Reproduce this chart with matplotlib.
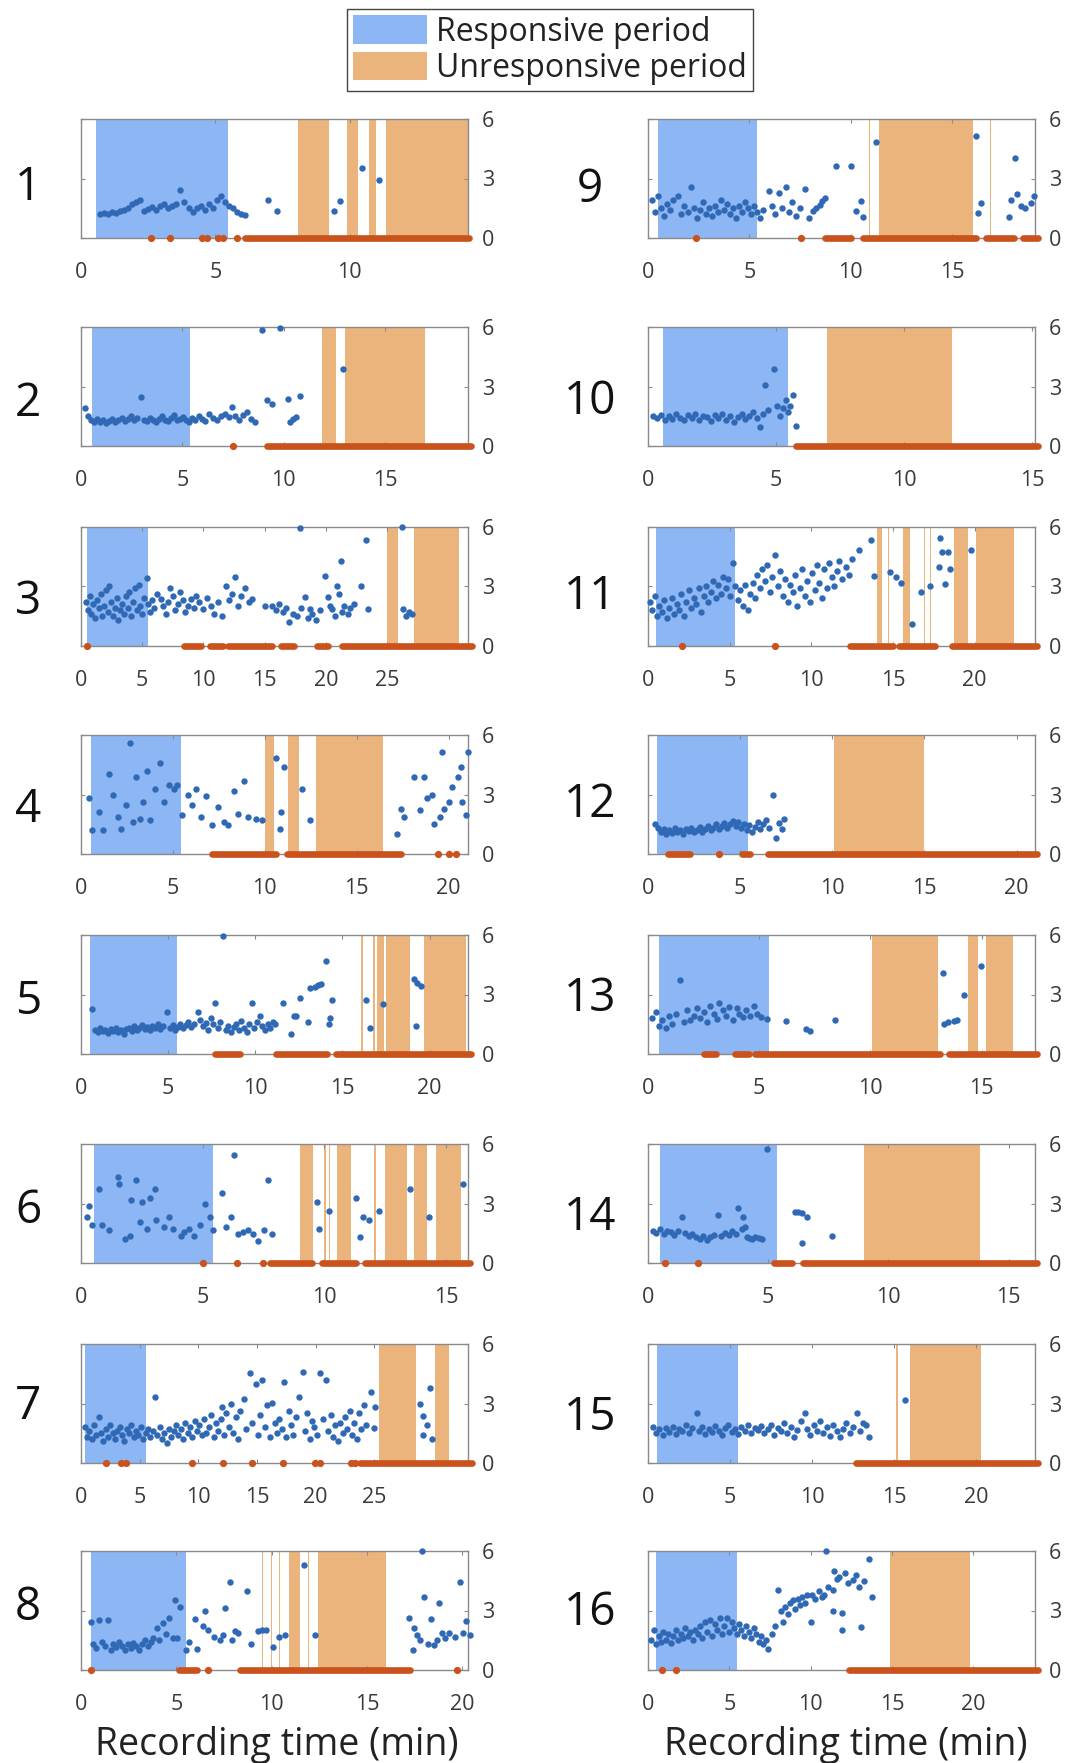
import matplotlib
matplotlib.use('Agg')
import matplotlib.pyplot as plt
from matplotlib.patches import Patch

plt.rcParams['font.family'] = ['Open Sans', 'DejaVu Sans']

# ---------------- data ----------------
legend_labels = ["Responsive period", "Unresponsive period"]
xlabel_text = "Recording time (min)"
yticks = [0, 3, 6]

# panel 1
p1_xmax = 14.4
p1_xticks = [0, 5, 10]
p1_resp = (0.54, 5.48)
p1_unresp = [(8.07, 9.21), (9.9, 10.29), (10.73, 10.98), (11.36, 14.4)]
p1_pts = [(0.7, 1.2), (0.85, 1.25), (1.0, 1.2), (1.15, 1.3), (1.3, 1.25), (1.45, 1.35), (1.6, 1.4), (1.75, 1.5),
          (1.9, 1.7), (2.05, 1.8), (2.2, 1.9), (2.35, 1.35), (2.5, 1.45), (2.65, 1.55), (2.8, 1.4), (2.95, 1.6),
          (3.1, 1.7), (3.25, 1.5), (3.4, 1.6), (3.55, 1.7), (3.7, 2.4), (3.85, 1.8), (4.0, 1.5), (4.15, 1.3),
          (4.3, 1.5), (4.45, 1.6), (4.6, 1.4), (4.75, 1.7), (4.9, 1.5), (5.05, 1.9), (5.2, 2.1), (5.35, 1.8),
          (5.5, 1.6), (5.65, 1.5), (5.8, 1.3), (5.95, 1.2), (6.1, 1.15), (6.95, 1.9), (7.3, 1.35), (9.4, 1.35),
          (9.65, 1.85), (10.45, 3.55), (11.1, 2.9)]
p1_zero_dots = [2.6, 3.3, 4.5, 4.7, 5.1, 5.3, 5.8]
p1_zero_runs = [(6.1, 14.45)]

# panel 2
p2_xmax = 19.1
p2_xticks = [0, 5, 10, 15]
p2_resp = (0.52, 5.37)
p2_unresp = [(11.9, 12.6), (13.05, 17.0)]
p2_pts = [(0.2, 1.9), (0.35, 1.5), (0.5, 1.3), (0.65, 1.2), (0.8, 1.35), (0.95, 1.2), (1.1, 1.3), (1.25, 1.15),
          (1.4, 1.25), (1.55, 1.35), (1.7, 1.2), (1.85, 1.3), (2.0, 1.4), (2.15, 1.25), (2.3, 1.35), (2.45, 1.5),
          (2.6, 1.3), (2.75, 1.4), (2.95, 2.45), (3.1, 1.3), (3.25, 1.25), (3.4, 1.4), (3.55, 1.3), (3.7, 1.2),
          (3.85, 1.35), (4.0, 1.5), (4.15, 1.3), (4.3, 1.25), (4.45, 1.4), (4.6, 1.55), (4.75, 1.3), (4.9, 1.35),
          (5.05, 1.45), (5.2, 1.3), (5.35, 1.2), (5.5, 1.4), (5.65, 1.3), (5.8, 1.5), (5.95, 1.35), (6.1, 1.25),
          (6.3, 1.6), (6.5, 1.4), (6.7, 1.3), (6.9, 1.5), (7.1, 1.6), (7.3, 1.45), (7.45, 1.95), (7.6, 1.5),
          (7.8, 1.3), (8.0, 1.55), (8.2, 1.7), (8.4, 1.35), (8.6, 1.2), (8.95, 5.85), (9.2, 2.3), (9.45, 2.1),
          (9.8, 5.95), (10.2, 2.35), (10.3, 1.2), (10.45, 1.35), (10.6, 1.45), (10.8, 2.5), (12.95, 3.9)]
p2_zero_dots = [7.52]
p2_zero_runs = [(9.2, 19.25)]

# panel 3
p3_xmax = 31.6
p3_xticks = [0, 5, 10, 15, 20, 25]
p3_resp = (0.5, 5.5)
p3_unresp = [(25.0, 25.9), (27.2, 30.9)]
p3_pts = [(0.4, 2.2), (0.55, 1.8), (0.7, 2.5), (0.85, 1.6), (1.0, 2.1), (1.15, 1.4), (1.3, 2.3), (1.45, 1.9),
          (1.6, 2.6), (1.75, 1.5), (1.9, 2.0), (2.05, 2.8), (2.2, 1.7), (2.3, 3.05), (2.45, 2.2), (2.6, 1.5),
          (2.75, 1.9), (2.9, 2.4), (3.05, 1.3), (3.2, 1.8), (3.35, 2.1), (3.5, 1.6), (3.65, 2.5), (3.8, 1.9),
          (3.95, 2.7), (4.1, 1.5), (4.25, 2.2), (4.4, 2.9), (4.55, 1.8), (4.7, 3.1), (4.85, 2.0), (5.0, 1.6),
          (5.15, 2.4), (5.35, 3.45), (5.5, 2.1), (5.65, 1.7), (5.8, 2.3), (6.0, 1.9), (6.2, 2.6), (6.5, 2.35),
          (6.7, 2.0), (6.9, 1.6), (7.1, 2.2), (7.3, 2.9), (7.5, 2.5), (7.7, 1.8), (7.9, 2.1), (8.1, 2.7),
          (8.3, 2.3), (8.5, 1.7), (8.7, 2.0), (8.97, 2.35), (9.2, 1.9), (9.4, 2.5), (9.6, 2.2), (10.0, 1.85),
          (10.3, 2.4), (10.6, 2.0), (10.9, 1.6), (11.2, 2.2), (11.5, 1.5), (11.8, 3.05), (12.1, 2.3), (12.35, 2.6),
          (12.6, 3.5), (12.85, 2.0), (13.1, 2.5), (13.4, 2.9), (13.7, 2.2), (14.0, 2.35), (15.0, 2.0), (15.6, 2.0),
          (15.9, 1.8), (16.2, 2.1), (16.5, 1.7), (16.75, 1.9), (17.0, 1.2), (17.3, 1.6), (17.6, 1.5), (17.9, 5.95),
          (18.0, 1.9), (18.3, 2.45), (18.5, 1.4), (18.7, 1.85), (18.9, 1.6), (19.2, 1.3), (19.5, 1.8), (19.9, 3.55),
          (20.2, 2.45), (20.35, 2.0), (20.5, 1.85), (20.7, 1.5), (20.9, 3.05), (21.05, 2.6), (21.2, 4.3), (21.35, 1.7),
          (21.5, 2.0), (21.8, 1.6), (22.0, 1.9), (22.3, 2.1), (22.85, 3.05), (23.3, 5.35), (23.4, 1.85), (26.2, 6.0),
          (26.3, 1.85), (26.5, 1.5), (26.75, 1.7), (27.0, 1.6)]
p3_zero_dots = [0.5]
p3_zero_runs = [(8.4, 9.8), (10.5, 11.6), (12.0, 15.6), (16.3, 17.4), (19.25, 20.2), (21.3, 31.9)]

# panel 4
p4_xmax = 21.05
p4_xticks = [0, 5, 10, 15, 20]
p4_resp = (0.52, 5.42)
p4_unresp = [(10.0, 10.5), (11.25, 11.84), (12.8, 16.4)]
p4_pts = [(0.46, 2.8), (0.6, 1.2), (1.0, 2.1), (1.2, 1.2), (1.54, 4.05), (1.72, 2.95), (2.0, 1.86), (2.2, 1.27),
          (2.46, 2.45), (2.65, 5.6), (2.83, 1.6), (3.0, 3.9), (3.2, 1.77), (3.38, 2.6), (3.57, 4.2), (3.75, 1.7),
          (4.03, 3.3), (4.3, 4.6), (4.5, 2.6), (4.77, 3.5), (5.05, 3.3), (5.2, 3.5), (5.5, 1.95), (5.8, 2.95),
          (6.05, 2.45), (6.25, 3.3), (6.53, 1.86), (6.8, 2.9), (7.1, 1.45), (7.45, 2.35), (7.8, 1.6), (8.0, 1.45),
          (8.3, 3.2), (8.55, 2.0), (8.85, 3.7), (9.1, 1.86), (9.5, 1.77), (9.85, 1.7), (10.6, 4.85), (11.05, 4.4),
          (10.9, 2.1), (10.8, 1.27), (12.0, 3.3), (12.45, 1.7), (17.2, 1.0), (17.4, 2.28), (17.55, 1.86), (18.1, 3.9),
          (18.65, 3.9), (18.45, 2.2), (18.8, 2.8), (19.1, 2.95), (19.2, 1.5), (19.5, 1.86), (19.65, 5.15), (19.75, 2.28),
          (20.0, 2.6), (20.2, 3.38), (20.5, 3.9), (20.65, 4.4), (20.75, 2.6), (20.95, 1.95), (21.05, 5.15)]
p4_zero_dots = [19.4, 20.0, 20.4]
p4_zero_runs = [(7.1, 10.6), (11.2, 17.4)]

# panel 5
p5_xmax = 22.2
p5_xticks = [0, 5, 10, 15, 20]
p5_resp = (0.49, 5.52)
p5_unresp = [(16.05, 16.15), (16.75, 16.85), (17.0, 17.4), (17.5, 18.9), (19.7, 22.1)]
p5_pts = [(0.64, 2.25), (0.8, 1.2), (0.95, 1.1), (1.1, 1.3), (1.25, 1.15), (1.4, 1.2), (1.55, 1.05), (1.7, 1.25),
          (1.85, 1.15), (2.0, 1.3), (2.15, 1.1), (2.3, 1.2), (2.45, 1.0), (2.6, 1.25), (2.75, 1.3), (2.9, 1.15),
          (3.05, 1.4), (3.2, 1.2), (3.35, 1.3), (3.5, 1.45), (3.65, 1.25), (3.8, 1.35), (3.95, 1.2), (4.1, 1.4),
          (4.25, 1.3), (4.4, 1.5), (4.55, 1.25), (4.7, 1.4), (4.93, 2.1), (5.1, 1.3), (5.25, 1.45), (5.4, 1.2),
          (5.55, 1.35), (5.7, 1.5), (5.85, 1.3), (6.0, 1.45), (6.15, 1.6), (6.3, 1.35), (6.5, 1.5), (6.7, 2.1),
          (6.85, 1.7), (7.0, 1.4), (7.15, 1.55), (7.3, 1.2), (7.45, 1.8), (7.6, 1.5), (7.7, 2.55), (7.85, 1.3),
          (8.0, 1.6), (8.16, 5.95), (8.3, 1.2), (8.45, 1.4), (8.6, 1.1), (8.75, 1.35), (8.9, 1.5), (9.05, 1.2),
          (9.2, 1.65), (9.35, 1.3), (9.5, 1.1), (9.65, 1.5), (9.8, 2.55), (9.95, 1.3), (10.1, 1.6), (10.25, 1.9),
          (10.4, 1.4), (10.55, 1.2), (10.7, 1.5), (10.85, 1.3), (11.0, 1.6), (11.15, 1.5), (11.6, 2.55), (12.05, 1.0),
          (12.2, 1.9), (12.35, 1.9), (12.55, 2.8), (13.0, 1.6), (13.15, 3.35), (13.4, 3.4), (13.6, 3.5), (13.75, 3.55),
          (14.05, 4.7), (14.2, 1.5), (14.3, 1.8), (14.4, 2.7), (16.35, 2.7), (16.6, 1.3), (17.3, 2.5), (19.1, 3.8),
          (19.2, 1.4), (19.3, 3.6), (19.5, 3.45)]
p5_zero_dots = []
p5_zero_runs = [(7.7, 9.1), (11.2, 14.1), (14.6, 22.4)]

# panel 6
p6_xmax = 15.9
p6_xticks = [0, 5, 10, 15]
p6_resp = (0.53, 5.42)
p6_unresp = [(8.99, 9.52), (10.0, 10.05), (10.2, 10.25), (10.5, 11.1), (12.05, 12.1), (12.5, 13.4),
             (13.7, 14.2), (14.6, 15.6)]
p6_pts = [(0.25, 2.33), (0.32, 2.85), (0.46, 1.9), (0.74, 3.75), (0.88, 1.9), (1.16, 1.64), (1.5, 4.36), (1.58, 4.0),
          (1.8, 1.2), (2.0, 1.38), (2.07, 3.2), (2.28, 4.2), (2.42, 2.07), (2.5, 3.1), (2.7, 1.72), (2.85, 3.3),
          (3.05, 3.75), (3.1, 2.15), (3.4, 1.8), (3.6, 2.33), (3.8, 1.72), (4.1, 1.38), (4.25, 1.55), (4.45, 1.72),
          (4.65, 1.38), (4.87, 1.9), (5.08, 2.95), (5.3, 2.33), (5.42, 1.64), (5.8, 3.55), (5.95, 1.8), (6.15, 2.33),
          (6.3, 5.45), (6.43, 1.47), (6.65, 1.55), (6.85, 1.64), (7.07, 1.47), (7.27, 1.12), (7.5, 1.64), (7.7, 4.2),
          (7.85, 1.47), (9.7, 3.1), (9.77, 1.72), (10.2, 2.6), (11.3, 3.3), (11.45, 1.3), (11.6, 2.33), (11.85, 2.15),
          (12.25, 2.6), (13.5, 3.75), (14.3, 2.33), (15.7, 4.0)]
p6_zero_dots = [5.0, 6.4, 7.47]
p6_zero_runs = [(7.75, 9.5), (9.9, 11.3), (11.65, 16.0)]

# panel 7
p7_xmax = 33.0
p7_xticks = [0, 5, 10, 15, 20, 25]
p7_resp = (0.38, 5.5)
p7_unresp = [(25.4, 28.6), (30.2, 31.4)]
p7_pts = [(0.3, 1.8), (0.5, 1.3), (0.7, 1.6), (0.9, 1.2), (1.1, 1.9), (1.3, 1.4), (1.5, 2.3), (1.7, 1.5),
          (1.9, 1.1), (2.1, 1.7), (2.3, 1.3), (2.5, 1.9), (2.7, 1.5), (2.9, 1.2), (3.1, 1.6), (3.3, 1.8),
          (3.5, 1.4), (3.7, 1.1), (3.9, 1.7), (4.1, 1.5), (4.3, 1.9), (4.5, 1.3), (4.7, 1.6), (4.9, 1.4),
          (5.1, 1.8), (5.3, 1.2), (5.5, 1.5), (5.7, 1.7), (5.9, 1.3), (6.1, 1.6), (6.3, 3.35), (6.5, 1.4),
          (6.7, 1.8), (6.9, 1.2), (7.1, 1.5), (7.3, 1.0), (7.5, 1.7), (7.7, 1.3), (7.9, 1.6), (8.1, 1.9),
          (8.3, 1.4), (8.5, 1.7), (8.7, 1.2), (8.9, 2.0), (9.1, 1.5), (9.3, 1.8), (9.5, 1.3), (9.7, 2.1),
          (9.9, 1.6), (10.1, 1.9), (10.3, 1.4), (10.5, 2.2), (10.7, 1.5), (10.9, 1.8), (11.1, 2.4), (11.3, 1.3),
          (11.5, 2.0), (11.7, 1.6), (11.9, 2.2), (12.0, 2.8), (12.2, 1.4), (12.4, 2.5), (12.6, 1.8), (12.8, 3.0),
          (13.0, 1.5), (13.2, 2.3), (13.4, 1.2), (13.6, 2.6), (13.9, 3.25), (14.1, 1.7), (14.4, 4.55), (14.6, 2.0),
          (14.9, 4.0), (15.1, 1.4), (15.3, 2.4), (15.45, 4.2), (15.7, 1.8), (15.9, 2.9), (16.1, 1.3), (16.3, 3.05),
          (16.5, 2.0), (16.7, 1.5), (16.9, 2.2), (17.1, 1.7), (17.3, 4.1), (17.5, 1.3), (17.7, 2.6), (17.9, 1.9),
          (18.1, 1.4), (18.3, 2.3), (18.6, 3.35), (18.9, 4.6), (19.1, 1.6), (19.3, 2.5), (19.5, 1.2), (19.7, 2.1),
          (19.9, 1.8), (20.1, 1.4), (20.4, 4.55), (20.6, 2.2), (20.9, 4.2), (21.1, 1.6), (21.3, 2.4), (21.5, 1.3),
          (21.7, 1.9), (21.9, 1.1), (22.1, 2.0), (22.3, 1.5), (22.5, 2.3), (22.7, 1.7), (22.9, 2.6), (23.1, 1.4),
          (23.3, 2.0), (23.5, 1.2), (23.7, 2.5), (23.9, 1.7), (24.1, 2.9), (24.3, 1.9), (24.7, 3.6), (25.0, 1.75),
          (25.1, 2.8), (28.9, 3.0), (29.2, 2.35), (29.2, 1.4), (29.5, 1.9), (29.8, 3.8), (29.9, 1.2)]
p7_zero_dots = [2.1, 3.4, 3.8, 9.5, 12.1, 14.6, 17.2, 19.95, 20.4, 23.0, 23.4]
p7_zero_runs = [(23.8, 33.3)]

# panel 8
p8_xmax = 20.3
p8_xticks = [0, 5, 10, 15, 20]
p8_resp = (0.5, 5.5)
p8_unresp = [(9.05, 9.1), (9.5, 9.55), (9.95, 10.0), (10.4, 10.45), (10.9, 11.47), (11.9, 11.95), (12.45, 16.0)]
p8_pts = [(0.5, 2.4), (0.65, 1.3), (0.8, 1.1), (0.94, 2.5), (1.1, 1.4), (1.25, 1.2), (1.4, 2.5), (1.55, 1.0),
          (1.7, 1.3), (1.85, 1.15), (2.0, 1.4), (2.15, 1.2), (2.3, 1.0), (2.45, 1.3), (2.6, 1.1), (2.75, 1.35),
          (2.9, 1.2), (3.05, 1.0), (3.2, 1.3), (3.35, 1.5), (3.5, 1.2), (3.65, 1.4), (3.8, 1.6), (3.98, 2.1),
          (4.1, 1.5), (4.3, 2.35), (4.45, 1.8), (4.6, 2.6), (4.8, 1.6), (4.95, 3.55), (5.05, 1.6), (5.2, 3.2),
          (5.5, 1.0), (5.67, 1.42), (6.0, 2.55), (6.1, 1.08), (6.4, 2.2), (6.5, 3.0), (6.65, 2.0), (7.0, 1.68),
          (7.3, 1.5), (7.45, 1.76), (7.55, 3.15), (7.8, 4.45), (7.9, 1.5), (8.1, 1.95), (8.25, 1.85), (8.7, 4.0),
          (8.9, 1.33), (9.3, 1.95), (9.5, 2.0), (9.7, 2.0), (10.05, 1.16), (10.4, 1.68), (10.7, 1.76), (11.7, 5.3),
          (12.3, 1.76), (17.2, 2.6), (17.4, 1.0), (17.45, 2.1), (17.6, 1.76), (17.8, 1.5), (17.9, 6.0), (18.0, 3.7),
          (18.2, 1.33), (18.35, 2.55), (18.5, 1.25), (18.7, 1.5), (18.8, 3.4), (18.95, 1.85), (19.1, 1.6), (19.3, 1.85),
          (19.6, 1.68), (19.9, 4.45), (20.05, 1.85), (20.2, 2.45), (20.4, 1.76)]
p8_zero_dots = [0.5, 6.65, 19.7]
p8_zero_runs = [(5.15, 6.1), (8.35, 17.25)]

# panel 9
p9_xmax = 19.1
p9_xticks = [0, 5, 10, 15]
p9_resp = (0.5, 5.37)
p9_unresp = [(10.9, 10.95), (11.4, 16.05), (16.9, 16.95)]
p9_pts = [(0.2, 1.9), (0.35, 1.3), (0.5, 2.1), (0.65, 1.5), (0.8, 1.1), (0.95, 1.7), (1.1, 1.4), (1.25, 1.9),
          (1.5, 2.1), (1.65, 1.2), (1.8, 1.6), (1.95, 1.3), (2.1, 2.57), (2.25, 1.5), (2.4, 1.0), (2.55, 1.4),
          (2.7, 1.8), (2.85, 1.2), (3.0, 1.5), (3.15, 1.1), (3.3, 1.6), (3.45, 1.3), (3.6, 1.9), (3.75, 1.4),
          (3.9, 1.7), (4.05, 1.2), (4.2, 1.5), (4.35, 1.0), (4.5, 1.6), (4.65, 1.3), (4.8, 1.8), (4.95, 1.5),
          (5.1, 1.2), (5.25, 1.6), (5.4, 1.3), (5.55, 1.0), (5.7, 1.4), (5.96, 2.35), (6.1, 1.6), (6.25, 1.2),
          (6.47, 2.28), (6.6, 1.5), (6.8, 2.57), (6.95, 1.3), (7.1, 1.8), (7.3, 1.1), (7.5, 1.5), (7.73, 2.45),
          (7.97, 1.0), (8.14, 1.34), (8.3, 1.5), (8.48, 1.68), (8.6, 1.85), (8.73, 2.0), (9.3, 3.65), (10.0, 3.65),
          (10.25, 1.34), (10.5, 1.85), (10.6, 1.08), (11.26, 4.85), (16.2, 5.15), (16.3, 1.25), (16.45, 1.75),
          (17.8, 1.08), (17.9, 1.94), (18.1, 4.05), (18.2, 2.2), (18.4, 1.6), (18.6, 1.5), (18.9, 1.76), (19.05, 2.1)]
p9_zero_dots = [2.35, 7.56]
p9_zero_runs = [(8.73, 10.0), (10.6, 16.2), (16.7, 18.05), (18.5, 19.25)]

# panel 10
p10_xmax = 15.1
p10_xticks = [0, 5, 10, 15]
p10_resp = (0.57, 5.45)
p10_unresp = [(7.0, 11.86)]
p10_pts = [(0.2, 1.5), (0.35, 1.4), (0.5, 1.55), (0.65, 1.3), (0.8, 1.5), (0.95, 1.35), (1.1, 1.6), (1.25, 1.4),
           (1.4, 1.3), (1.55, 1.55), (1.7, 1.4), (1.85, 1.6), (2.0, 1.3), (2.15, 1.5), (2.3, 1.45), (2.45, 1.25),
           (2.6, 1.55), (2.75, 1.4), (2.9, 1.6), (3.05, 1.3), (3.2, 1.5), (3.35, 1.2), (3.5, 1.45), (3.65, 1.6),
           (3.8, 1.35), (3.95, 1.5), (4.1, 1.7), (4.25, 1.4), (4.38, 0.95), (4.5, 1.6), (4.58, 3.08), (4.7, 1.8),
           (4.9, 3.86), (5.05, 2.0), (5.15, 1.5), (5.25, 1.9), (5.38, 2.3), (5.45, 1.7), (5.55, 2.0), (5.65, 2.57),
           (5.78, 1.0)]
p10_zero_dots = []
p10_zero_runs = [(5.78, 15.2)]

# panel 11
p11_xmax = 23.7
p11_xticks = [0, 5, 10, 15, 20]
p11_resp = (0.52, 5.3)
p11_unresp = [(14.0, 14.3), (14.7, 14.75), (15.6, 16.05), (16.9, 16.95), (17.3, 17.35), (18.75, 19.6), (20.1, 22.4)]
p11_pts = [(0.1, 2.2), (0.25, 1.8), (0.4, 2.5), (0.55, 1.5), (0.7, 2.0), (0.85, 1.7), (1.0, 2.3), (1.15, 1.4),
           (1.3, 1.9), (1.45, 2.4), (1.6, 1.6), (1.75, 2.1), (1.9, 1.8), (2.05, 2.6), (2.2, 1.5), (2.35, 2.2),
           (2.5, 2.8), (2.65, 1.9), (2.8, 2.4), (2.95, 2.1), (3.1, 2.9), (3.25, 1.7), (3.4, 2.5), (3.55, 3.0),
           (3.7, 2.2), (3.85, 2.7), (4.0, 3.3), (4.15, 2.4), (4.3, 3.1), (4.45, 2.6), (4.6, 3.5), (4.75, 2.9),
           (4.9, 3.4), (5.05, 2.5), (5.2, 4.2), (5.35, 3.0), (5.5, 2.3), (5.65, 2.8), (5.8, 2.0), (5.95, 3.1),
           (6.1, 1.8), (6.25, 2.6), (6.4, 3.2), (6.55, 2.4), (6.7, 3.6), (6.85, 2.9), (7.0, 3.9), (7.15, 3.3),
           (7.3, 4.1), (7.45, 2.7), (7.6, 3.5), (7.8, 4.6), (7.95, 3.0), (8.1, 3.8), (8.25, 2.5), (8.4, 3.4),
           (8.55, 2.2), (8.7, 3.1), (8.85, 2.7), (9.0, 3.6), (9.15, 2.0), (9.3, 2.9), (9.45, 3.9), (9.6, 2.5),
           (9.75, 3.3), (9.9, 2.2), (10.05, 3.7), (10.2, 2.8), (10.35, 4.1), (10.5, 3.2), (10.65, 2.4), (10.8, 3.9),
           (10.95, 2.9), (11.1, 4.2), (11.25, 3.5), (11.4, 3.0), (11.55, 3.8), (11.7, 4.3), (11.9, 3.4), (12.1, 4.0),
           (12.3, 3.6), (12.5, 4.4), (12.9, 4.85), (13.65, 5.35), (13.85, 3.55), (14.8, 3.75), (15.2, 3.5), (15.5, 3.2),
           (16.15, 1.1), (16.7, 2.7), (17.3, 3.05), (17.8, 4.0), (17.9, 5.45), (18.0, 4.75), (18.2, 3.15), (18.4, 4.75),
           (18.5, 3.9), (19.8, 4.85)]
p11_zero_dots = [2.1, 7.8]
p11_zero_runs = [(12.4, 15.0), (15.4, 17.6), (18.6, 23.85)]

# panel 12
p12_xmax = 21.0
p12_xticks = [0, 5, 10, 15, 20]
p12_resp = (0.5, 5.44)
p12_unresp = [(10.1, 15.0)]
p12_pts = [(0.4, 1.5), (0.55, 1.3), (0.7, 1.1), (0.85, 1.25), (1.0, 1.0), (1.15, 1.2), (1.3, 1.05), (1.45, 1.3),
           (1.6, 1.1), (1.75, 1.2), (1.9, 1.0), (2.05, 1.25), (2.2, 1.15), (2.35, 1.3), (2.5, 1.1), (2.65, 1.2),
           (2.8, 1.35), (2.95, 1.1), (3.1, 1.25), (3.25, 1.4), (3.4, 1.2), (3.55, 1.3), (3.7, 1.5), (3.85, 1.25),
           (4.0, 1.4), (4.15, 1.55), (4.3, 1.3), (4.45, 1.5), (4.6, 1.65), (4.75, 1.4), (4.9, 1.6), (5.05, 1.3),
           (5.2, 1.5), (5.35, 1.2), (5.5, 1.45), (5.65, 1.1), (5.8, 1.35), (5.95, 1.6), (6.1, 1.25), (6.25, 1.5),
           (6.4, 1.7), (6.55, 1.3), (6.8, 2.97), (6.95, 0.8), (7.1, 1.55), (7.25, 1.25), (7.4, 1.76)]
p12_zero_dots = [3.85]
p12_zero_runs = [(1.1, 2.3), (5.1, 5.55), (6.5, 21.1)]

# panel 13
p13_xmax = 17.4
p13_xticks = [0, 5, 10, 15]
p13_resp = (0.5, 5.46)
p13_unresp = [(10.07, 13.05), (14.4, 14.85), (15.2, 16.4)]
p13_pts = [(0.2, 1.8), (0.35, 2.1), (0.5, 1.4), (0.65, 1.7), (0.8, 1.3), (0.95, 1.9), (1.1, 1.5), (1.25, 2.0),
           (1.45, 3.73), (1.6, 1.6), (1.75, 2.2), (1.9, 1.7), (2.05, 1.9), (2.2, 2.3), (2.35, 1.8), (2.5, 2.1),
           (2.65, 1.6), (2.8, 2.4), (2.95, 2.0), (3.1, 1.75), (3.2, 2.56), (3.35, 2.2), (3.5, 1.9), (3.65, 2.35),
           (3.8, 1.7), (3.98, 2.3), (4.1, 2.0), (4.25, 1.85), (4.4, 2.2), (4.6, 1.9), (4.75, 2.4), (4.9, 2.0),
           (5.1, 1.85), (5.36, 1.78), (6.2, 1.64), (7.1, 1.26), (7.3, 1.16), (8.4, 1.73), (13.25, 4.1), (13.3, 1.5),
           (13.5, 1.6), (13.75, 1.64), (13.9, 1.7), (14.2, 2.96), (14.95, 4.45)]
p13_zero_dots = []
p13_zero_runs = [(2.5, 3.05), (3.9, 4.55), (4.8, 13.15), (13.55, 17.5)]

# panel 14
p14_xmax = 16.1
p14_xticks = [0, 5, 10, 15]
p14_resp = (0.5, 5.38)
p14_unresp = [(9.0, 13.83)]
p14_pts = [(0.2, 1.6), (0.35, 1.5), (0.5, 1.7), (0.65, 1.45), (0.8, 1.6), (0.95, 1.55), (1.1, 1.4), (1.25, 1.6),
           (1.42, 2.3), (1.55, 1.5), (1.7, 1.35), (1.85, 1.45), (2.0, 1.3), (2.15, 1.2), (2.3, 1.35), (2.45, 1.15),
           (2.6, 1.3), (2.75, 1.4), (2.9, 2.4), (3.05, 1.35), (3.2, 1.5), (3.35, 1.4), (3.5, 1.6), (3.65, 1.45),
           (3.75, 2.75), (3.9, 1.7), (3.96, 2.3), (4.03, 1.8), (4.1, 1.3), (4.2, 1.25), (4.32, 1.2), (4.45, 1.3),
           (4.6, 1.25), (4.75, 1.2), (4.95, 5.75), (6.1, 2.57), (6.25, 2.55), (6.4, 2.5), (6.6, 2.3), (6.4, 1.03),
           (7.65, 1.37)]
p14_zero_dots = [0.7, 2.1]
p14_zero_runs = [(5.25, 6.0), (6.45, 16.2)]

# panel 15
p15_xmax = 23.6
p15_xticks = [0, 5, 10, 15, 20]
p15_resp = (0.52, 5.46)
p15_unresp = [(15.1, 15.25), (16.0, 20.3)]
p15_pts = [(0.3, 1.8), (0.5, 1.5), (0.7, 1.7), (0.9, 1.4), (1.1, 1.75), (1.3, 1.55), (1.5, 1.8), (1.7, 1.45),
           (1.9, 1.7), (2.1, 1.6), (2.3, 1.9), (2.5, 1.5), (2.7, 1.75), (2.97, 2.5), (3.1, 1.6), (3.3, 1.8),
           (3.5, 1.45), (3.7, 1.7), (3.9, 1.55), (4.1, 1.85), (4.3, 1.6), (4.5, 1.4), (4.7, 1.75), (4.9, 1.9),
           (5.1, 1.55), (5.3, 1.7), (5.5, 1.45), (5.7, 1.8), (5.9, 1.6), (6.1, 1.9), (6.3, 1.5), (6.5, 1.75),
           (6.7, 1.65), (6.9, 1.85), (7.1, 1.5), (7.3, 1.7), (7.5, 1.9), (7.7, 1.4), (7.9, 1.75), (8.1, 1.6),
           (8.3, 2.0), (8.5, 1.5), (8.7, 1.8), (8.9, 1.3), (9.1, 1.65), (9.3, 2.1), (9.55, 2.5), (9.7, 1.7),
           (9.9, 1.4), (10.1, 1.9), (10.3, 1.6), (10.5, 2.1), (10.7, 1.5), (10.9, 1.8), (11.1, 1.35), (11.3, 1.9),
           (11.5, 1.6), (11.7, 1.3), (11.9, 1.7), (12.1, 2.0), (12.3, 1.5), (12.5, 1.8), (12.75, 2.5), (12.9, 1.6),
           (13.1, 2.0), (13.3, 1.9), (13.5, 1.3), (15.7, 3.2)]
p15_zero_dots = []
p15_zero_runs = [(12.7, 23.8)]

# panel 16
p16_xmax = 23.8
p16_xticks = [0, 5, 10, 15, 20]
p16_resp = (0.52, 5.45)
p16_unresp = [(14.9, 19.8)]
p16_pts = [(0.2, 1.5), (0.35, 2.0), (0.5, 1.3), (0.65, 1.7), (0.8, 1.4), (0.95, 1.9), (1.1, 1.5), (1.25, 1.8),
           (1.4, 1.35), (1.55, 1.7), (1.7, 2.0), (1.85, 1.5), (2.0, 1.8), (2.15, 1.6), (2.3, 2.1), (2.45, 1.7),
           (2.6, 1.9), (2.75, 1.5), (2.9, 2.0), (3.05, 1.8), (3.2, 2.2), (3.35, 1.6), (3.5, 2.4), (3.65, 1.9),
           (3.8, 2.5), (3.95, 1.7), (4.1, 2.3), (4.25, 2.0), (4.4, 2.6), (4.55, 1.8), (4.7, 2.2), (4.85, 2.6),
           (5.0, 1.9), (5.15, 2.4), (5.3, 2.1), (5.45, 1.8), (5.6, 2.3), (5.75, 2.0), (5.9, 1.7), (6.05, 2.2),
           (6.2, 1.9), (6.35, 1.6), (6.5, 2.1), (6.65, 1.8), (6.8, 1.4), (6.95, 1.7), (7.1, 1.3), (7.25, 1.5),
           (7.4, 1.05), (7.6, 1.8), (7.8, 2.2), (8.0, 4.05), (8.15, 3.0), (8.3, 2.4), (8.45, 3.2), (8.6, 2.8),
           (8.75, 3.4), (8.9, 3.55), (9.05, 3.1), (9.2, 3.6), (9.35, 3.3), (9.5, 3.7), (9.65, 3.4), (9.8, 3.8),
           (10.0, 2.4), (10.1, 3.8), (10.3, 3.6), (10.5, 4.0), (10.7, 3.7), (10.85, 3.8), (10.95, 6.0), (11.1, 4.2),
           (11.35, 4.05), (11.35, 2.95), (11.45, 5.0), (11.6, 4.6), (11.75, 4.7), (11.9, 2.0), (11.9, 2.85), (12.1, 4.9),
           (12.3, 4.4), (12.6, 4.55), (12.8, 4.8), (13.0, 4.2), (13.1, 2.15), (13.3, 4.5), (13.6, 5.6), (13.75, 3.7)]
p16_zero_dots = [0.85, 1.7]
p16_zero_runs = [(12.35, 24.0)]

panels = []
for k in range(1, 17):
    g = globals()
    panels.append(dict(xmax=g[f'p{k}_xmax'], xticks=g[f'p{k}_xticks'], resp=g[f'p{k}_resp'],
                       unresp=g[f'p{k}_unresp'], pts=g[f'p{k}_pts'], zd=g[f'p{k}_zero_dots'],
                       zr=g[f'p{k}_zero_runs']))

# ---------------- style / layout ----------------
C_RESP = '#8DB6F4'
C_UNRESP = '#ECB47D'
C_DOT = '#2F68B4'
C_ZERO = '#C9521D'
C_SPINE = '#8a8a8a'
C_TXT = '#3a3a3a'

W, H = 1068, 1763
fig = plt.figure(figsize=(W / 100, H / 100), dpi=100)

col_left = [81, 648]
tops = [119, 327, 527, 735, 935, 1144, 1344, 1551]
aw, ah = 387, 119
num_x = [28, 590]
num_frac = [0.58, 0.65, 0.63, 0.63, 0.56, 0.56, 0.53, 0.48,
            0.60, 0.63, 0.59, 0.59, 0.54, 0.62, 0.62, 0.52]

for i, p in enumerate(panels):
    col, row = divmod(i, 8)
    x0 = col_left[col]
    y0 = tops[row]
    ax = fig.add_axes([x0 / W, 1 - (y0 + ah) / H, aw / W, ah / H])
    ax.set_xlim(0, p['xmax'])
    ax.set_ylim(0, 6)
    ax.axvspan(p['resp'][0], p['resp'][1], color=C_RESP, lw=0, zorder=0)
    for s, e in p['unresp']:
        ax.axvspan(s, e, color=C_UNRESP, lw=0, zorder=0)
    ts = [q[0] for q in p['pts']]
    ys = [q[1] for q in p['pts']]
    ax.plot(ts, ys, 'o', ms=4.6, color=C_DOT, mec='none', clip_on=False, zorder=4)
    if p['zr']:
        ax.hlines([0] * len(p['zr']), [r[0] for r in p['zr']], [r[1] for r in p['zr']],
                  colors=C_ZERO, linewidth=4.8, capstyle='round', clip_on=False, zorder=3)
    if p['zd']:
        ax.plot(p['zd'], [0] * len(p['zd']), 'o', ms=5.2, color=C_ZERO, mec='none',
                clip_on=False, zorder=3)
    ax.set_xticks(p['xticks'])
    ax.set_yticks(yticks)
    for sp in ax.spines.values():
        sp.set_color(C_SPINE)
        sp.set_linewidth(1.0)
    ax.tick_params(axis='both', direction='in', length=3, width=0.8, colors=C_SPINE,
                   labelcolor=C_TXT, labelsize=15.5)
    ax.tick_params(axis='y', left=True, right=True, labelleft=False, labelright=True, pad=10)
    ax.tick_params(axis='x', top=True, bottom=True, pad=17)
    fig.text(num_x[col] / W, 1 - (y0 + num_frac[i] * ah) / H, str(i + 1), ha='center', va='center',
             fontsize=33, color='#111111')

fig.text(277 / W, 1 - 1745 / H, xlabel_text, ha='center', va='center', fontsize=27, color='#222222')
fig.text(846 / W, 1 - 1745 / H, xlabel_text, ha='center', va='center', fontsize=27, color='#222222')

handles = [Patch(facecolor=C_RESP, edgecolor='none'), Patch(facecolor=C_UNRESP, edgecolor='none')]
leg = fig.legend(handles, legend_labels, loc='upper center', bbox_to_anchor=(550 / W, 1 - 9 / H),
                 fontsize=23, frameon=True, fancybox=False, edgecolor='#444444', framealpha=1,
                 handlelength=2.3, handleheight=1.0, borderpad=0.2, labelspacing=0.1,
                 handletextpad=0.3, borderaxespad=0)
leg.get_frame().set_linewidth(1.0)
for t in leg.get_texts():
    t.set_color('#222222')

fig.savefig('out.png', dpi=100)
